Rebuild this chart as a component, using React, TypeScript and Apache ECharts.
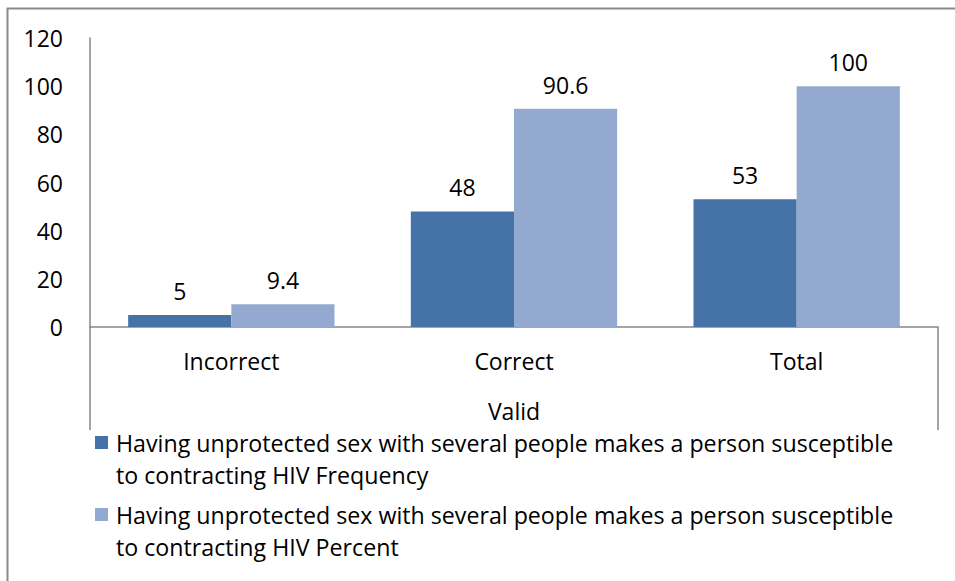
import React, { useEffect, useRef } from "react";
import * as echarts from "echarts";

// Answer categories under the "Valid" group
const categories = ["Incorrect", "Correct", "Total"];
const groupLabel = ["Valid"];

const seriesNames = [
  "Having unprotected sex with several people makes a person susceptible to contracting HIV Frequency",
  "Having unprotected sex with several people makes a person susceptible to contracting HIV Percent",
];
const frequency = [5, 48, 53];
const percent = [9.4, 90.6, 100];

const FONT = "'Open Sans', sans-serif";
const AXIS_GREY = "#868686";
const DARK_BLUE = "#4572A7";
const LIGHT_BLUE = "#93A9CF";

// Square marker sitting beside the first line of a two-line legend entry
const legendIcon = "path://M0,9H13V22H0Z M0,0H0.01V0.01H0Z M0,64H0.01V64.01H0Z";

export default function App() {
  const ref = useRef<HTMLDivElement>(null);

  useEffect(() => {
    document.body.style.margin = "0";
    if (!ref.current) return;
    const chart = echarts.init(ref.current, undefined, { renderer: "svg" });

    const labelStyle = {
      show: true,
      position: "top" as const,
      distance: 10,
      fontSize: 23,
      lineHeight: 28,
      fontFamily: FONT,
      color: "#000",
    };

    chart.setOption({
      animation: false,
      backgroundColor: "#fff",
      textStyle: { fontFamily: FONT },
      grid: { left: 90, right: 17, top: 38, bottom: 254, containLabel: false },
      graphic: [
        {
          type: "rect",
          shape: { x: 7.5, y: 8.5, width: 1000, height: 1000 },
          style: { fill: "none", stroke: "#898989", lineWidth: 2 },
          silent: true,
        },
      ],
      legend: {
        orient: "vertical",
        left: 95,
        top: 427,
        padding: 0,
        itemGap: 8,
        itemWidth: 13,
        itemHeight: 64,
        icon: legendIcon,
        selectedMode: false,
        textStyle: {
          fontFamily: FONT,
          fontSize: 23.2,
          lineHeight: 32,
          color: "#000",
          padding: [0, 0, 0, 3],
        },
        formatter: (name: string) => name.replace(" to contracting", "\nto contracting"),
        data: seriesNames,
      },
      xAxis: [
        {
          type: "category",
          data: categories,
          position: "bottom",
          axisLine: { show: true, lineStyle: { color: AXIS_GREY, width: 1.5 } },
          axisTick: { show: false },
          axisLabel: {
            margin: 20,
            fontSize: 23,
            lineHeight: 28,
            fontFamily: FONT,
            color: "#000",
          },
          splitLine: { show: false },
        },
        {
          type: "category",
          data: groupLabel,
          position: "bottom",
          axisLine: { show: false },
          axisTick: {
            show: true,
            length: 103,
            interval: 0,
            lineStyle: { color: AXIS_GREY, width: 1.5 },
          },
          axisLabel: {
            margin: 70,
            fontSize: 23,
            lineHeight: 28,
            fontFamily: FONT,
            color: "#000",
          },
          splitLine: { show: false },
        },
      ],
      yAxis: {
        type: "value",
        min: 0,
        max: 120,
        interval: 20,
        axisLine: { show: true, lineStyle: { color: AXIS_GREY, width: 1.5 } },
        axisTick: { show: false },
        splitLine: { show: false },
        axisLabel: {
          margin: 27,
          fontSize: 23,
          fontFamily: FONT,
          color: "#000",
        },
      },
      series: [
        {
          name: seriesNames[0],
          type: "bar",
          xAxisIndex: 0,
          data: frequency,
          barGap: "0%",
          barCategoryGap: "27%",
          itemStyle: { color: DARK_BLUE },
          label: labelStyle,
        },
        {
          name: seriesNames[1],
          type: "bar",
          xAxisIndex: 0,
          data: percent,
          barGap: "0%",
          barCategoryGap: "27%",
          itemStyle: { color: LIGHT_BLUE },
          label: labelStyle,
        },
      ],
    });

    return () => chart.dispose();
  }, []);

  return <div ref={ref} style={{ width: 955, height: 581 }} />;
}
